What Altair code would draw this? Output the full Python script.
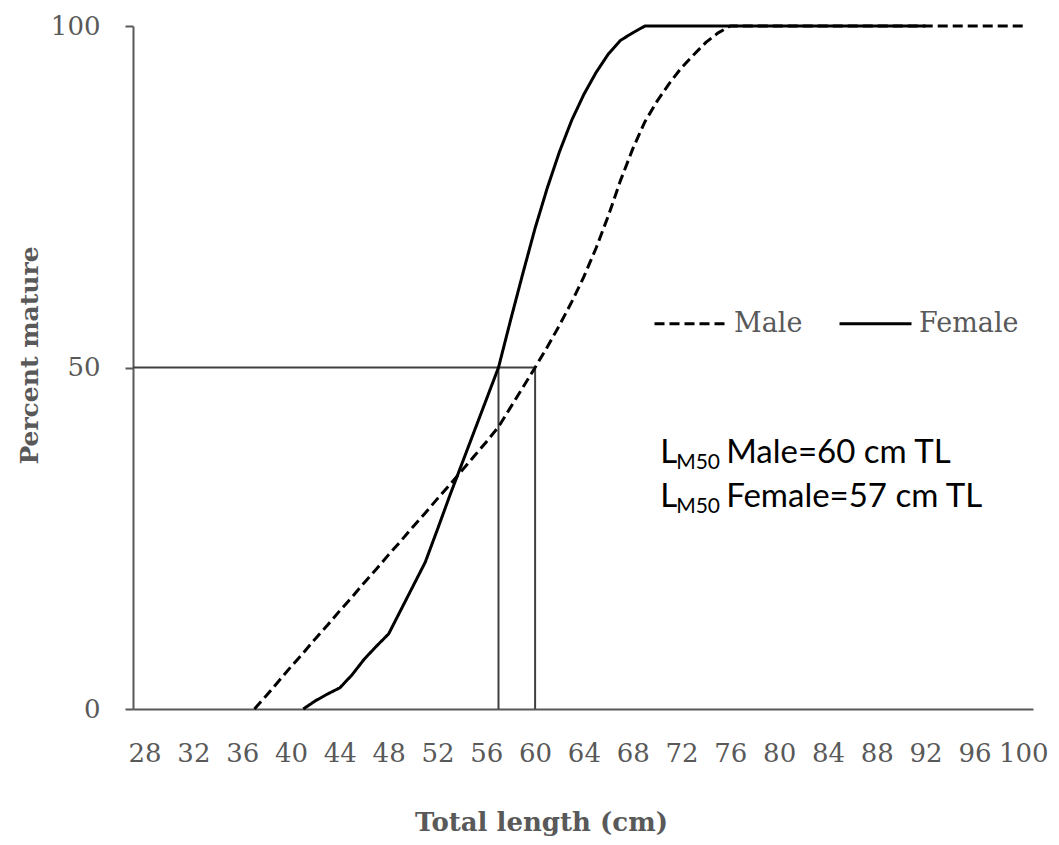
import altair as alt
import pandas as pd

# Maturity ogives: percent mature by total length (cm)
male_len = list(range(37, 101))
male_pct = [0, 2, 4.1, 6.2, 8.2, 10.3, 12.3, 14.4, 16.4, 18.5,
            20.5, 22.6, 24.6, 26.7, 28.7, 30.8, 32.8, 34.9, 37, 39.1,
            41.3, 44.2, 47.1, 50, 53, 56.2, 59.6, 63.3, 67.5, 72.2,
            77.4, 82, 86, 89, 91.6, 93.9, 95.8, 97.6, 99, 100] + [100] * 24

female_len = list(range(41, 93))
female_pct = [0, 1.2, 2.2, 3.1, 5, 7.3, 9.2, 11, 14.5, 18,
              21.5, 26.3, 31.2, 35.9, 40.6, 45.3, 50, 57, 63.8, 70.4,
              76.3, 81.6, 86.2, 90, 93.2, 95.9, 97.9, 99, 100] + [100] * 23

sexes = ["Male", "Female"]
lm50 = {"Male": 60, "Female": 57}

x_ticks = list(range(28, 101, 4))
y_ticks = [0, 50, 100]

curves = pd.concat([
    pd.DataFrame({"length": male_len, "pct": male_pct, "sex": "Male"}),
    pd.DataFrame({"length": female_len, "pct": female_pct, "sex": "Female"}),
])

AXIS_GREY = "#595959"
SERIF = "DejaVu Serif"

x_scale = alt.Scale(domain=[27.05, 100.8], nice=False, zero=False)
y_scale = alt.Scale(domain=[0, 100], nice=False)

x_axis = alt.Axis(
    values=x_ticks, ticks=False, tickSize=0, grid=False,
    labelFont=SERIF, labelFontSize=26, labelColor=AXIS_GREY, labelPadding=31,
    labelFlush=False, labelOverlap=False,
    domainColor=AXIS_GREY, domainWidth=2,
    title="Total length (cm)", titleFont=SERIF, titleFontSize=26,
    titleFontWeight="bold", titleColor=AXIS_GREY,
    titleX=408, titleY=121, titleAlign="center", titleBaseline="alphabetic",
)
y_axis = alt.Axis(
    values=y_ticks, tickSize=8, tickColor=AXIS_GREY, tickWidth=2, grid=False,
    labelFont=SERIF, labelFontSize=26, labelColor=AXIS_GREY, labelPadding=25,
    domainColor=AXIS_GREY, domainWidth=2,
    title="Percent mature", titleFont=SERIF, titleFontSize=25,
    titleFontWeight="bold", titleColor=AXIS_GREY,
    titleX=-96, titleY=329, titleAlign="center", titleBaseline="alphabetic",
)

lines = alt.Chart(curves).mark_line(strokeWidth=3, color="black", strokeCap="butt").encode(
    x=alt.X("length:Q", scale=x_scale, axis=x_axis),
    y=alt.Y("pct:Q", scale=y_scale, axis=y_axis),
    strokeDash=alt.StrokeDash(
        "sex:N",
        scale=alt.Scale(domain=sexes, range=[[10, 5], [1, 0]]),
        legend=alt.Legend(
            orient="none", legendX=520, legendY=260, direction="horizontal",
            symbolType="stroke", symbolSize=5184, symbolStrokeWidth=3,
            symbolStrokeColor="black", labelFont=SERIF, labelFontSize=27,
            labelColor=AXIS_GREY, labelOffset=6, columnPadding=30,
            padding=0, title=None,
        ),
    ),
    order="length:Q",
)

# L50 guide lines: drop lines at each length and a horizontal line at 50 %
ref = pd.DataFrame({"sex": sexes, "len": [lm50[s] for s in sexes], "lo": 0, "half": 50})
drops = alt.Chart(ref).mark_rule(color="#404040", strokeWidth=2).encode(
    x="len:Q", y="lo:Q", y2="half:Q"
)
half_line = alt.Chart(ref[ref["len"] == ref["len"].max()]).mark_rule(
    color="#404040", strokeWidth=2
).encode(x="len:Q", x2=alt.value(0), y="half:Q")

# L_M50 annotation with subscript
notes = pd.DataFrame({
    "x": [70.25, 70.25],
    "y": [36.0, 29.6],
    "main": ["L", "L"],
    "sub": ["M50", "M50"],
    "rest": [f"{s}={lm50[s]} cm TL" for s in sexes],
})
base_note = alt.Chart(notes).encode(x="x:Q", y="y:Q")
note_l = base_note.mark_text(font="Lato", fontSize=33, align="left",
                             baseline="alphabetic", color="black").encode(text="main:N")
note_sub = base_note.mark_text(font="Lato", fontSize=21, align="left",
                               baseline="alphabetic", color="black", dx=16, dy=6).encode(text="sub:N")
note_rest = base_note.mark_text(font="Lato", fontSize=33, align="left",
                                baseline="alphabetic", color="black", dx=66).encode(text="rest:N")

chart = alt.layer(drops, half_line, lines, note_l, note_sub, note_rest).properties(
    width=900, height=683,
    autosize=alt.AutoSizeParams(type="none"),
    padding={"left": 133, "top": 26, "right": 26, "bottom": 136},
    background="white",
).configure_view(stroke=None)

chart.save("out.html", embed_options={"renderer": "svg", "actions": False})
